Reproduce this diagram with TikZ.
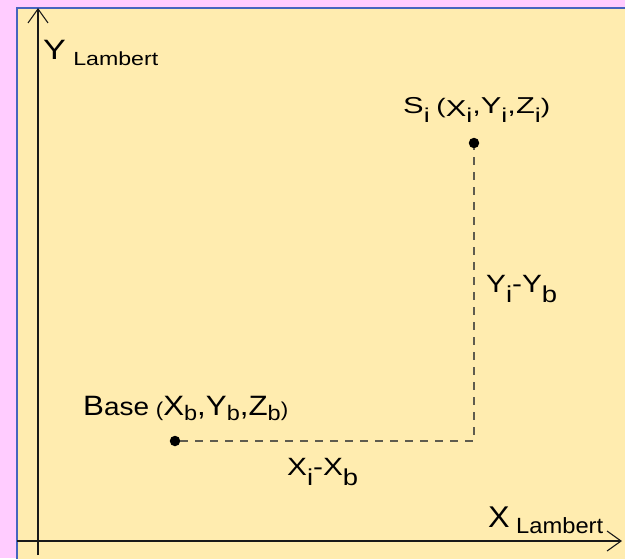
\documentclass[tikz,border=0pt]{standalone}
\usepackage{fontspec}
\setmainfont{Liberation Sans}
\usetikzlibrary{arrows.meta}
\definecolor{pinkbg}{RGB}{255,204,255}
\definecolor{paper}{RGB}{255,236,175}
\definecolor{framecol}{RGB}{70,100,190}
\definecolor{dashcol}{RGB}{95,92,78}
\newcommand\fsz[1]{\fontsize{#1}{#1}\selectfont}
% lowered text: {drop}{size}{text}
\newcommand\lsub[3]{\raisebox{-#1}{\fsz{#2}#3}}
\begin{document}
\begin{tikzpicture}[x=1pt,y=-1pt,
  axisline/.style={line width=1.2pt,black!90,-{Straight Barb[length=14pt,width=20pt,line width=1.1pt]}},
  lbl/.style={inner sep=0pt,anchor=base west,text=black},
  pt/.style={circle,fill=black,inner sep=0pt,minimum size=10.5pt},
  dline/.style={line width=1.5pt,dashcol,dash pattern=on 8pt off 7pt}]
\useasboundingbox (0,0) rectangle (625,558);
\fill[pinkbg] (0,0) rectangle (625,558);
\fill[paper] (17,8) rectangle (626,559);
\draw[framecol,line width=1.4pt] (17,559) -- (17,8) -- (626,8);
% axes
\coordinate (yb) at (38,555);
\coordinate (yt) at (38,8);
\coordinate (xl) at (17,541);
\coordinate (xr) at (622,541);
\draw[axisline] (yb) -- (yt);
\draw[axisline] (xl) -- (xr);
\node[lbl] (ylab) at (43,59) {\resizebox{115pt}{\height}{\fsz{28}Y\hspace{6pt}\lsub{6pt}{19}{Lambert}}};
\node[lbl] (xlab) at (488,527) {\resizebox{115pt}{\height}{\fsz{30}X\hspace{6pt}\lsub{6pt}{22}{Lambert}}};
% points
\node[pt] (S) at (474,143) {};
\node[pt] (B) at (175,441) {};
\coordinate (C) at (474,441);
\draw[dline] (B) -- (C) -- (S);
\node[lbl] (slab) at (403,113) {\resizebox{147pt}{\height}{\fsz{23}S\lsub{9pt}{20}{i}\hspace{5pt}{\fsz{21}(}\raisebox{-3pt}{X}\lsub{9pt}{20}{i},Y\lsub{9pt}{20}{i},Z\lsub{9pt}{20}{i}{\fsz{21})}}};
\node[lbl] (blab) at (83,415) {\resizebox{205pt}{\height}{\fsz{28}B{\fsz{25}ase}\hspace{6pt}\lsub{1pt}{20}{(}X\lsub{5pt}{21}{b},Y\lsub{5pt}{21}{b},Z\lsub{5pt}{21}{b}\lsub{1pt}{20}{)}}};
\node[lbl] (dx) at (287,475) {\resizebox{71pt}{\height}{\fsz{25}X\lsub{10pt}{23}{i}-X\lsub{10pt}{23}{b}}};
\node[lbl] (dy) at (486,292) {\resizebox{71pt}{\height}{\fsz{25}Y\lsub{10pt}{23}{i}-Y\lsub{10pt}{23}{b}}};
\end{tikzpicture}
\end{document}
